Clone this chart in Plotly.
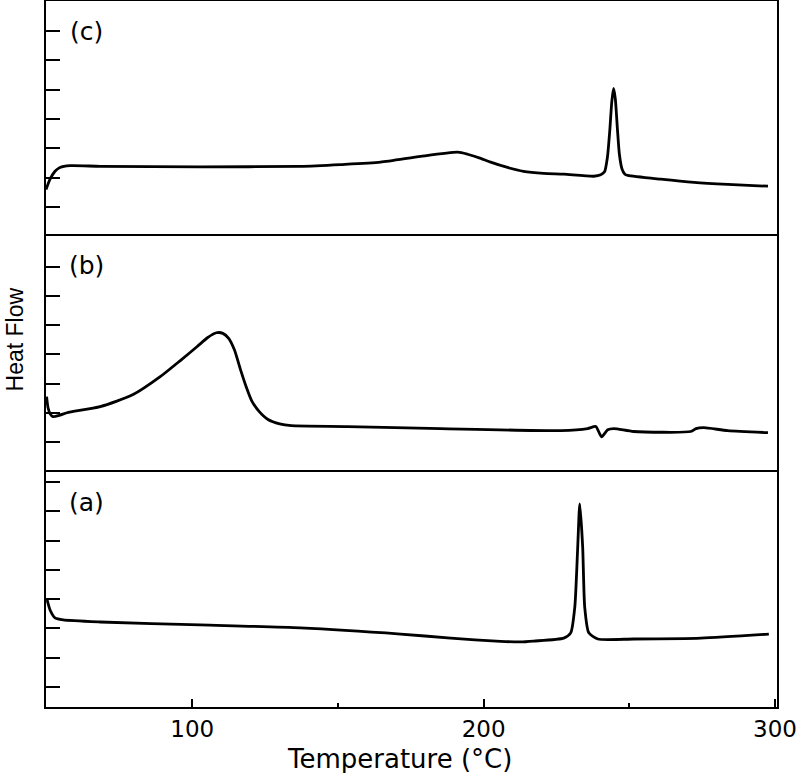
"""
DSC curves (a), (b), (c) stacked on a shared temperature axis
"""

import plotly.graph_objects as go
from plotly.subplots import make_subplots

# (c) top panel
temp_c = [49.8, 51.2, 52.9, 54.6, 58.1, 68.4, 102.7, 137.0, 151.0, 164.6, 178.4, 191.1,
          194.5, 199.0, 202.4, 208.2, 213.7, 220.6, 227.5, 237.8, 240.2, 241.5, 242.5,
          243.3, 244.0, 244.6, 245.2, 245.9, 246.6, 247.5, 248.5, 249.5, 260.8, 272.2,
          283.8, 297.6]
hf_c = [1.60, 1.95, 2.22, 2.35, 2.41, 2.39, 2.37, 2.39, 2.45, 2.53, 2.73, 2.87,
        2.80, 2.66, 2.53, 2.35, 2.22, 2.15, 2.12, 2.05, 2.10, 2.20, 2.70,
        3.60, 4.60, 5.05, 4.70, 3.70, 2.80, 2.30, 2.12, 2.08, 1.95, 1.84,
        1.77, 1.71]

# (b) middle panel
temp_b = [50.0, 50.5, 51.2, 52.2, 54.6, 57.0, 68.4, 79.7, 89.0, 95.9, 101.7, 105.2,
          108.3, 110.5, 112.5, 114.5, 116.5, 118.5, 120.5, 123.0, 126.0, 130.0, 134.0,
          153.3, 185.2, 226.5, 235.7, 238.5, 240.5, 242.6, 244.7, 251.5, 271.1, 272.9,
          275.6, 283.8, 297.6]
hf_b = [2.56, 2.18, 1.98, 1.88, 1.93, 2.01, 2.22, 2.63, 3.24, 3.79, 4.27, 4.57,
        4.74, 4.72, 4.55, 4.15, 3.50, 2.90, 2.40, 2.05, 1.78, 1.63, 1.57,
        1.54, 1.47, 1.40, 1.47, 1.54, 1.19, 1.43, 1.47, 1.37, 1.37, 1.47,
        1.50, 1.40, 1.33]

# (a) bottom panel
temp_a = [50.2, 51.2, 52.9, 55.7, 68.4, 102.7, 137.1, 171.5, 188.7, 205.8, 212.7,
          217.2, 227.5, 229.9, 231.3, 232.3, 233.0, 234.0, 234.7, 236.1, 239.2, 251.5,
          274.6, 297.9]
hf_a = [3.65, 3.31, 3.04, 2.97, 2.90, 2.80, 2.70, 2.49, 2.35, 2.24, 2.22,
        2.25, 2.35, 2.53, 3.41, 5.46, 6.93, 5.46, 3.41, 2.53, 2.32, 2.32,
        2.35, 2.49]

panels = [("(c)", temp_c, hf_c), ("(b)", temp_b, hf_b), ("(a)", temp_a, hf_a)]

fig = make_subplots(rows=3, cols=1, shared_xaxes=True, vertical_spacing=0)

for i, (name, t, hf) in enumerate(panels, start=1):
    fig.add_trace(go.Scatter(
        x=t, y=hf, mode="lines",
        line=dict(color="black", width=2.8, shape="spline", smoothing=0.6),
        showlegend=False, hoverinfo="skip",
    ), row=i, col=1)
    fig.update_yaxes(
        range=[0, 8.03], dtick=1, tick0=0.68 if i == 3 else 0,
        ticks="inside", ticklen=14, tickwidth=2, tickcolor="black",
        showticklabels=False, showgrid=False, zeroline=False,
        showline=True, linecolor="black", linewidth=2, mirror=True,
        row=i, col=1,
    )
    # top panels only draw their upper edge, bottom panel draws both
    fig.update_xaxes(
        range=[49.8, 300.7], showgrid=False, zeroline=False,
        showline=True, linecolor="black", linewidth=2,
        side="bottom" if i == 3 else "top", mirror=(i == 3),
        ticks="", showticklabels=False,
        row=i, col=1,
    )

fig.update_xaxes(
    tickvals=[100, 200, 300], ticks="inside", ticklen=8, tickwidth=2,
    tickcolor="black", showticklabels=True,
    tickfont=dict(family="DejaVu Sans", size=23, color="black"),
    minor=dict(tickvals=[150, 250], ticks="inside", ticklen=4, tickwidth=2,
               tickcolor="black"),
    row=3, col=1,
)

label_pos = [0.9575, 0.626, 0.290]
for (name, _, _), yp in zip(panels, label_pos):
    fig.add_annotation(text=name, xref="paper", yref="paper", x=0.056, y=yp,
                       showarrow=False, xanchor="center", yanchor="middle",
                       font=dict(family="DejaVu Sans", size=25, color="black"))

fig.add_annotation(text="Heat Flow", xref="paper", yref="paper", x=-0.043, y=0.52,
                   textangle=-90, showarrow=False, xanchor="center", yanchor="middle",
                   font=dict(family="Liberation Sans", size=23, color="black"))
fig.add_annotation(text="Temperature (°C)", xref="paper", yref="paper", x=0.484,
                   y=-0.073, showarrow=False, xanchor="center", yanchor="middle",
                   font=dict(family="DejaVu Sans", size=26, color="black"))

fig.update_layout(
    width=800, height=773,
    margin=dict(l=46, r=23, t=1, b=66),
    plot_bgcolor="white", paper_bgcolor="white",
)

fig.write_html("out.html", config={"displayModeBar": False},
               post_script="document.body.style.margin = '0';")
